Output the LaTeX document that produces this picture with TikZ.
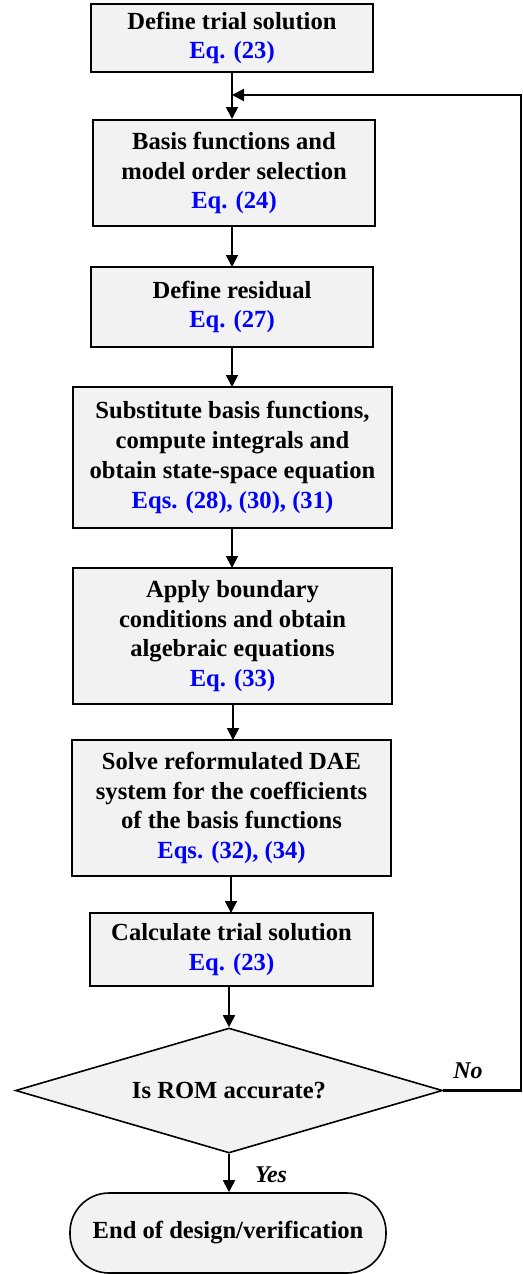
\documentclass[tikz,border=0pt]{standalone}
\usepackage{fontspec}
\setmainfont{Liberation Serif}
\usetikzlibrary{shapes.geometric,arrows.meta}
\definecolor{boxfill}{RGB}{242,242,242}
\definecolor{eqblue}{RGB}{0,0,255}
\tikzset{
  x=1pt,y=-1pt,
  txt/.style={font=\fontsize{24.6}{29.8}\selectfont\bfseries},
  stepbox/.style={draw=black,line width=2pt,fill=boxfill,rectangle,align=center,inner sep=0pt,txt},
  decbox/.style={draw=black,line width=1.6pt,fill=boxfill,diamond,shape aspect=3.4,inner sep=0pt,
    minimum width=427pt,minimum height=125pt,txt},
  termbox/.style={draw=black,line width=1.6pt,fill=boxfill,rectangle,rounded corners=39pt,inner sep=0pt,
    minimum width=316pt,minimum height=80pt,txt},
  arr/.style={line width=1.8pt,-{Triangle[length=12pt,width=12pt]}},
  lbl/.style={font=\fontsize{24}{28}\selectfont\bfseries\itshape,inner sep=0pt},
}
\newcommand{\eqb}[1]{\textcolor{eqblue}{#1}}
\begin{document}
\begin{tikzpicture}
\useasboundingbox (0,0) rectangle (522,1274);
\node[stepbox,minimum width=282pt,minimum height=68pt] (b1) at (232,38)
  {Define trial solution\\\eqb{Eq. (23)}};
\node[stepbox,minimum width=282pt,minimum height=106pt] (b2) at (234,173)
  {Basis functions and\\model order selection\\\eqb{Eq. (24)}};
\node[stepbox,minimum width=282pt,minimum height=80pt] (b3) at (232,307)
  {Define residual\\\eqb{Eq. (27)}};
\node[stepbox,minimum width=319pt,minimum height=141pt] (b4) at (232.5,457.5)
  {Substitute basis functions,\\compute integrals and\\obtain state-space equation\\\eqb{Eqs. (28), (30), (31)}};
\node[stepbox,minimum width=319pt,minimum height=136pt] (b5) at (232.5,636)
  {Apply boundary\\conditions and obtain\\algebraic equations\\\eqb{Eq. (33)}};
\node[stepbox,minimum width=319pt,minimum height=136pt] (b6) at (231.5,808)
  {Solve reformulated DAE\\system for the coefficients\\of the basis functions\\\eqb{Eqs. (32), (34)}};
\node[stepbox,minimum width=283pt,minimum height=73pt] (b7) at (231.5,949.5)
  {Calculate trial solution\\\eqb{Eq. (23)}};
\node[decbox] (d) at (229,1090.5) {Is ROM accurate?};
\node[termbox] (t) at (228,1233) {End of design/verification};
\coordinate (j) at (232,95);
\coordinate (r) at (521,1090.5);
\draw[line width=1.8pt] (b1.south -| j) -- (j);
\draw[arr] (j) -- (j |- b2.north);
\draw[arr] (232,226) -- (232,267);
\draw[arr] (232,347) -- (232,387);
\draw[arr] (232,528) -- (232,568);
\draw[arr] (233,704) -- (233,740);
\draw[arr] (231,876) -- (231,913);
\draw[arr] (229,986) -- (d.north);
\draw[arr] (d.south) -- (d.south |- t.north);
\draw[arr,line width=2.2pt] (d.east) -- (r) -- (r |- j) -- (j);
\node[lbl] (no) at (468,1071) {No};
\node[lbl] (yes) at (271,1175) {Yes};
\end{tikzpicture}
\end{document}
